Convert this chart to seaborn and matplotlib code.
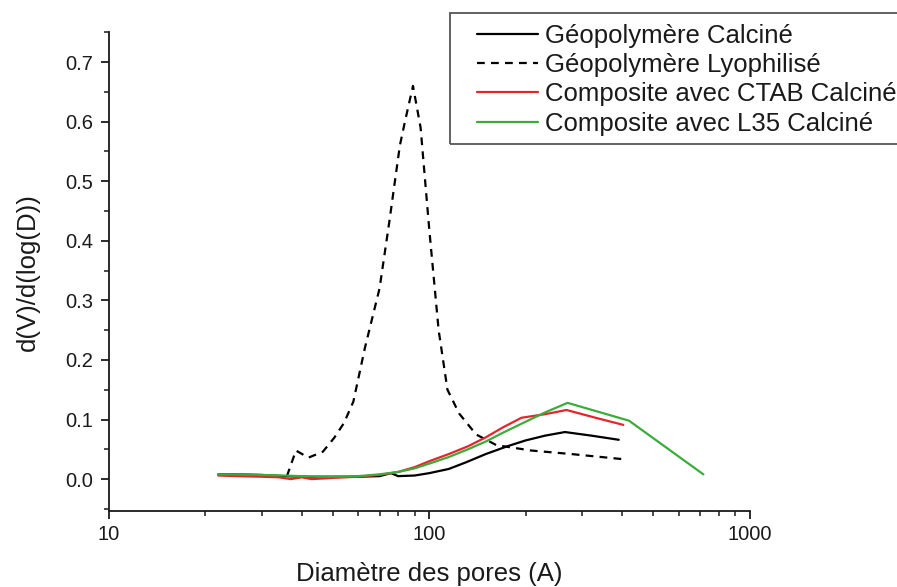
import numpy as np
import pandas as pd
import matplotlib
matplotlib.use("Agg")
import matplotlib.pyplot as plt
import seaborn as sns
from matplotlib.patches import Rectangle
from matplotlib.ticker import MultipleLocator, LogLocator, NullFormatter, FixedLocator, FixedFormatter

# Géopolymère Calciné
d_calc = [22, 25, 30, 35, 40, 50, 60, 70, 76, 80, 90, 100, 115, 130, 150, 175, 200, 230, 265, 320, 390]
v_calc = [0.008, 0.008, 0.007, 0.005, 0.004, 0.004, 0.004, 0.005, 0.010, 0.005, 0.006, 0.010, 0.017,
          0.028, 0.042, 0.055, 0.065, 0.073, 0.079, 0.073, 0.066]

# Géopolymère Lyophilisé
d_lyo = [36, 38.4, 42, 46.6, 50.5, 54.2, 58, 63, 70, 75, 81, 84, 89, 94, 100, 107, 114, 124, 140, 162, 208, 278, 410]
v_lyo = [0.005, 0.048, 0.036, 0.046, 0.069, 0.094, 0.13, 0.22, 0.32, 0.43, 0.56, 0.60, 0.66, 0.59, 0.42,
         0.25, 0.15, 0.11, 0.075, 0.057, 0.048, 0.042, 0.033]

# Composite avec CTAB Calciné
d_ctab = [22, 25, 30, 34, 37, 40, 43, 50, 60, 70, 80, 90, 100, 115, 132, 150, 170, 194, 230, 268, 330, 403]
v_ctab = [0.006, 0.005, 0.004, 0.003, 0.0, 0.003, 0.0, 0.002, 0.004, 0.007, 0.012, 0.020, 0.030, 0.042,
          0.055, 0.070, 0.087, 0.103, 0.109, 0.116, 0.103, 0.091]

# Composite avec L35 Calciné
d_l35 = [22, 25, 30, 35, 40, 45, 50, 60, 70, 80, 90, 100, 115, 132, 150, 170, 194, 230, 270, 420, 716]
v_l35 = [0.008, 0.008, 0.007, 0.006, 0.005, 0.004, 0.004, 0.005, 0.008, 0.012, 0.018, 0.026, 0.037,
         0.050, 0.063, 0.078, 0.093, 0.112, 0.128, 0.098, 0.008]

labels = ["Géopolymère Calciné", "Géopolymère Lyophilisé",
          "Composite avec CTAB Calciné", "Composite avec L35 Calciné"]

sns.set_style("ticks", {"axes.edgecolor": "#1a1a1a", "xtick.color": "#1a1a1a",
                        "ytick.color": "#1a1a1a", "text.color": "#1a1a1a",
                        "axes.labelcolor": "#1a1a1a"})
plt.rcParams["font.family"] = ["Liberation Sans", "DejaVu Sans"]

fig = plt.figure(figsize=(8.97, 5.87), dpi=100)
ax = fig.add_axes([0.121, 0.129, 0.715, 0.816])

series = [(d_calc, v_calc, "black", "-"),
          (d_lyo, v_lyo, "black", (0, (3.5, 2.8))),
          (d_ctab, v_ctab, "#e3262b", "-"),
          (d_l35, v_l35, "#3cab3c", "-")]
for (d, v, c, ls), lab in zip(series, labels):
    df = pd.DataFrame({"D": d, "V": v})
    sns.lineplot(data=df, x="D", y="V", ax=ax, color=c, linestyle=ls, lw=1.6,
                 label=lab, sort=False, estimator=None)

ax.set_xscale("log")
ax.set_xlim(10, 1000)
ax.set_ylim(-0.054, 0.75)
ax.xaxis.set_major_locator(FixedLocator([10, 100, 1000]))
ax.xaxis.set_major_formatter(FixedFormatter(["10", "100", "1000"]))
ax.xaxis.set_minor_locator(LogLocator(base=10, subs=np.arange(2, 10)))
ax.xaxis.set_minor_formatter(NullFormatter())
ax.yaxis.set_major_locator(FixedLocator([0.0, 0.1, 0.2, 0.3, 0.4, 0.5, 0.6, 0.7]))
ax.yaxis.set_major_formatter(FixedFormatter(["0.0", "0.1", "0.2", "0.3", "0.4", "0.5", "0.6", "0.7"]))
ax.yaxis.set_minor_locator(MultipleLocator(0.05))

for s in ["top", "right"]:
    ax.spines[s].set_visible(False)
for s in ["left", "bottom"]:
    ax.spines[s].set_linewidth(1.3)
ax.tick_params(which="major", direction="out", length=6, width=1.3, labelsize=14.5)
ax.tick_params(axis="x", which="major", pad=4)
ax.tick_params(axis="y", which="major", pad=5)
ax.tick_params(which="minor", direction="out", length=3.5, width=1.1)

ax.set_xlabel("Diamètre des pores (A)", fontsize=18.5, labelpad=13)
ax.set_ylabel("d(V)/d(log(D))", fontsize=18.5, labelpad=18)

# legend frame runs off the right edge, as in the original
fig.patches.append(Rectangle((450 / 897, 1 - 144 / 587), 0.6, 131 / 587,
                             transform=fig.transFigure, fill=False,
                             edgecolor="#555555", lw=1.3, zorder=5))
leg = ax.legend(loc="upper left", bbox_to_anchor=(472 / 897, 1 - 19 / 587),
                bbox_transform=fig.transFigure, fontsize=18.5, frameon=False,
                handlelength=2.35, handletextpad=0.28, labelspacing=0.2,
                borderpad=0.2, borderaxespad=0)

fig.savefig("out.png", dpi=100)
